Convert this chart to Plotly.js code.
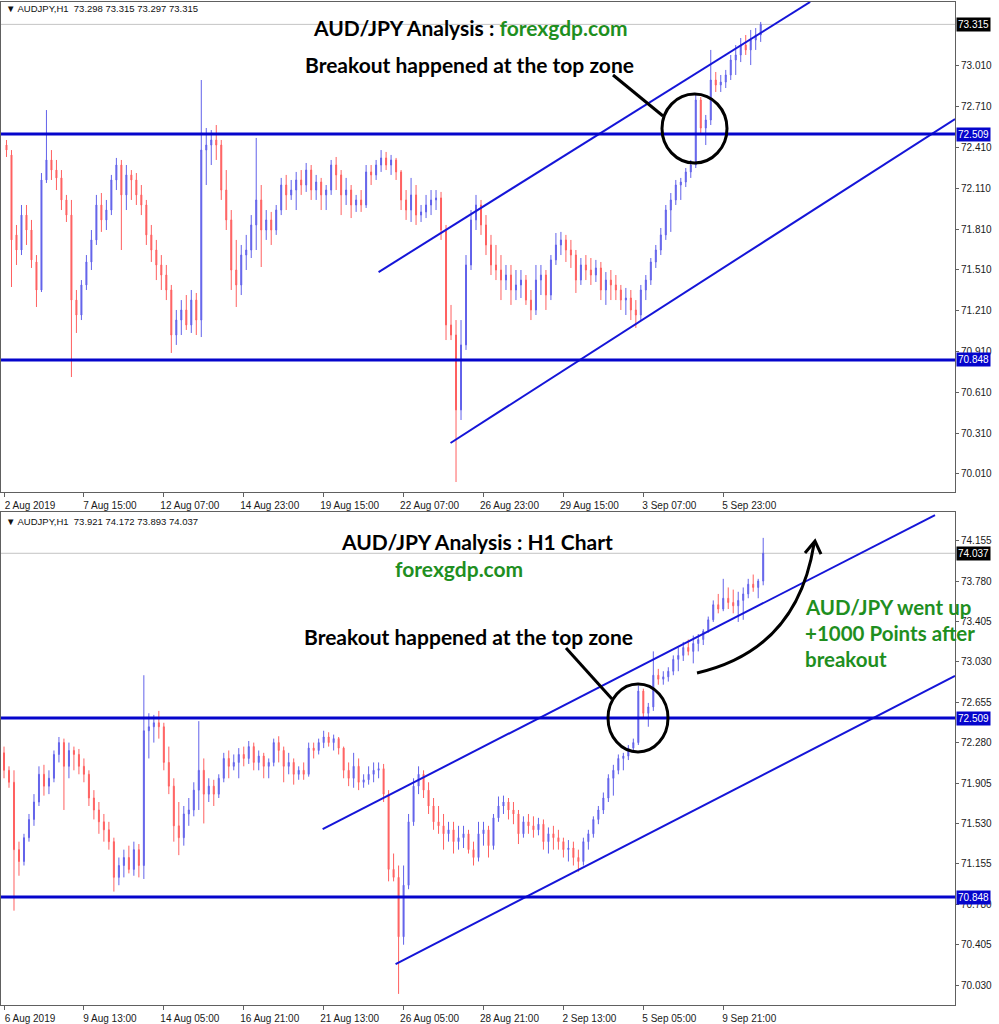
<!DOCTYPE html>
<html><head><meta charset="utf-8">
<script src="https://cdn.plot.ly/plotly-3.0.1.min.js"></script>
<style>html,body{margin:0;padding:0;background:#fff}#chart{width:999px;height:1024px}</style>
</head><body><div id="chart"></div>
<script>
// AUDJPY 4-hour candles (2 Aug 23:00 -> 10 Sep)
const openP = [
72.428,72.355,71.767,71.656,71.913,71.803,71.568,71.362,72.171,72.318,
72.244,72.186,72.024,71.913,71.288,71.178,71.399,71.568,71.730,71.987,
71.877,71.950,72.171,72.281,72.061,72.208,72.171,72.061,71.987,71.767,
71.656,71.546,71.472,71.362,71.031,71.141,71.215,71.105,71.288,71.141,
72.391,72.428,72.465,72.428,72.097,71.877,71.509,71.399,71.619,71.656,
71.840,72.024,71.803,71.877,71.803,71.950,72.134,72.061,72.097,72.171,
72.134,72.244,72.097,72.156,72.061,72.097,72.281,72.208,72.061,72.097,
71.987,72.024,71.987,72.230,72.208,72.281,72.333,72.281,72.318,72.230,
72.024,71.950,72.061,71.913,71.936,71.987,72.024,72.039,71.803,71.105,
71.031,70.480,70.958,71.546,71.877,71.987,71.840,71.693,71.546,71.509,
71.435,71.472,71.362,71.399,71.435,71.288,71.215,71.435,71.472,71.325,
71.583,71.693,71.730,71.656,71.619,71.435,71.546,71.509,71.472,71.524,
71.362,71.435,71.399,71.362,71.288,71.303,71.215,71.178,71.362,71.435,
71.568,71.656,71.767,71.950,72.024,72.134,72.156,72.230,72.281,72.759,
72.553,72.612,72.906,72.869,72.891,72.943,73.053,73.090,73.163,73.127,73.200,73.237,
73.320,73.420,73.560,73.520,73.620,73.580,73.550,73.600,73.660,73.750,73.720,73.780];
const highP = [
72.465,72.391,71.840,71.987,71.987,71.877,71.619,72.222,72.685,72.391,
72.318,72.244,72.061,72.024,71.362,71.435,71.619,71.803,72.061,72.075,
72.024,72.208,72.333,72.318,72.281,72.244,72.222,72.134,72.024,71.840,
71.730,71.619,71.546,71.399,71.215,71.288,71.325,71.362,71.340,72.906,
72.553,72.538,72.575,72.465,72.244,71.950,71.730,71.693,71.767,71.913,
72.480,72.134,71.950,71.936,71.987,72.186,72.208,72.171,72.230,72.244,
72.296,72.281,72.208,72.186,72.134,72.318,72.340,72.244,72.186,72.134,
72.061,72.097,72.281,72.281,72.318,72.391,72.377,72.355,72.333,72.244,
72.097,72.186,72.134,71.987,72.061,72.097,72.097,72.083,71.840,71.252,
71.141,71.141,71.619,71.950,72.061,72.024,71.913,71.767,71.693,71.619,
71.546,71.546,71.509,71.509,71.472,71.362,71.546,71.546,71.509,71.619,
71.781,71.789,71.767,71.730,71.656,71.597,71.619,71.597,71.583,71.568,
71.494,71.509,71.472,71.399,71.377,71.362,71.288,71.399,71.472,71.597,
71.693,71.818,71.987,72.075,72.171,72.186,72.259,72.318,72.811,72.781,
72.649,73.127,72.965,72.943,72.980,73.090,73.163,73.215,73.237,73.274,73.288,73.333,
73.450,73.600,73.660,73.800,73.720,73.700,73.680,73.720,73.800,73.840,73.800,74.180];
const lowP = [
72.340,71.384,71.546,71.619,71.693,71.524,71.237,71.347,72.149,72.171,
72.097,71.950,71.862,70.722,71.046,71.141,71.362,71.509,71.693,71.789,
71.803,71.913,72.097,71.656,71.950,72.024,71.987,71.913,71.693,71.568,
71.435,71.362,71.288,70.899,70.958,71.031,71.068,71.046,71.031,71.016,
72.134,72.281,72.318,72.024,71.803,71.362,71.237,71.325,71.509,71.597,
71.656,71.531,71.730,71.693,71.767,71.913,71.950,72.024,71.950,72.061,
72.083,72.024,72.024,71.950,71.950,72.061,72.097,71.913,71.987,71.891,
71.936,71.936,71.965,72.134,72.171,72.230,72.244,72.208,72.171,71.950,
71.877,71.862,71.840,71.862,71.891,71.913,71.950,71.730,70.994,70.994,
69.950,70.406,70.921,71.509,71.803,71.767,71.619,71.472,71.435,71.288,
71.362,71.252,71.288,71.303,71.252,71.141,71.178,71.325,71.215,71.288,
71.546,71.619,71.568,71.524,71.340,71.399,71.435,71.399,71.421,71.288,
71.252,71.288,71.288,71.215,71.178,71.141,71.083,71.141,71.288,71.399,
71.524,71.619,71.730,71.789,71.987,72.024,72.119,72.186,72.259,72.502,
72.428,72.575,72.818,72.818,72.847,72.906,72.943,73.038,73.090,73.016,73.127,73.186,
73.300,73.400,73.480,73.500,73.520,73.480,73.400,73.420,73.620,73.680,73.620,73.740];
const closeP = [
72.391,71.730,71.656,71.913,71.803,71.583,71.362,72.171,72.318,72.244,
72.186,72.024,71.913,71.288,71.178,71.399,71.568,71.730,71.987,71.877,
71.950,72.171,72.281,72.061,72.208,72.171,72.061,71.987,71.767,71.656,
71.546,71.472,71.362,71.031,71.141,71.215,71.105,71.288,71.141,72.391,
72.428,72.465,72.428,72.097,71.877,71.509,71.399,71.619,71.656,71.840,
72.024,71.803,71.877,71.803,71.950,72.134,72.061,72.097,72.171,72.134,
72.244,72.097,72.156,72.061,72.097,72.281,72.208,72.061,72.097,71.987,
72.024,71.987,72.230,72.208,72.281,72.333,72.281,72.318,72.230,72.024,
71.950,72.061,71.913,71.936,71.987,72.024,72.039,71.803,71.105,71.031,
70.480,70.958,71.546,71.877,71.987,71.840,71.693,71.546,71.509,71.435,
71.472,71.362,71.399,71.435,71.288,71.215,71.435,71.472,71.325,71.583,
71.693,71.730,71.656,71.619,71.435,71.546,71.509,71.472,71.524,71.362,
71.435,71.399,71.362,71.288,71.303,71.215,71.178,71.362,71.435,71.568,
71.656,71.767,71.950,72.024,72.134,72.156,72.230,72.281,72.759,72.553,
72.612,72.906,72.869,72.891,72.943,73.053,73.090,73.163,73.127,73.200,73.237,73.315,
73.420,73.560,73.520,73.620,73.580,73.550,73.600,73.660,73.750,73.720,73.780,74.037];
const topCandleCount = 152;   // first chart ends at 6 Sep

// axis labels (H1 bar numbers counted from 2 Aug 23:00)
const topTickBars = [0,64,128,192,256,320,384,448,512,576];
const topTickLabels = ['2 Aug 2019','7 Aug 15:00','12 Aug 07:00','14 Aug 23:00','19 Aug 15:00','22 Aug 07:00','26 Aug 23:00','29 Aug 15:00','3 Sep 07:00','5 Sep 23:00'];
const bottomTickBars = [46,110,174,238,302,366,430,494,558,622];
const bottomTickLabels = ['6 Aug 2019','9 Aug 13:00','14 Aug 05:00','16 Aug 21:00','21 Aug 13:00','26 Aug 05:00','28 Aug 21:00','2 Sep 13:00','5 Sep 05:00','9 Sep 21:00'];
const topPriceTicks = [70.010,70.310,70.610,70.910,71.210,71.510,71.810,72.110,72.410,72.710,73.010];
const bottomPriceTicks = [70.030,70.405,70.780,71.155,71.530,71.905,72.280,72.655,73.030,73.405,73.780,74.155];

// horizontal levels and channel lines
const levels = [72.509, 70.848];
const topLastPrice = 73.315, bottomLastPrice = 74.037;
const topHeader = '\u25BC AUDJPY,H1  73.298 73.315 73.297 73.315';
const bottomHeader = '\u25BC AUDJPY,H1  73.921 74.172 73.893 74.037';
const topUpperX = [300, 645.6], topUpperY = [71.494, 73.480];
const topLowerX = [357.6, 761.6], topLowerY = [70.237, 72.619];
const botUpperX = [301.2, 791.6], botUpperY = [71.479, 74.392];
const botLowerX = [359.6, 807.6], botLowerY = [70.227, 72.899];

const barX = closeP.map((_, i) => i * 4 + 2);

const W = 999, H = 1024;
const PX = x => x / W, PY = y => 1 - y / H;
const UP = '#6262ea', DN = '#ff6060', LVL = '#0505cc', TL = '#1515d8', GREEN = '#1f8f1f';

function candles(n, xa, ya) {
  return {type:'candlestick', x: barX.slice(0,n), open: openP.slice(0,n), high: highP.slice(0,n),
    low: lowP.slice(0,n), close: closeP.slice(0,n), xaxis: xa, yaxis: ya, hoverinfo:'skip',
    increasing:{line:{color:UP,width:1}, fillcolor:UP},
    decreasing:{line:{color:DN,width:1}, fillcolor:DN}, showlegend:false};
}
function tline(x, y, xa, ya) {
  return {type:'scatter', mode:'lines', x:x, y:y, xaxis:xa, yaxis:ya, line:{color:TL,width:2}, hoverinfo:'skip', showlegend:false};
}
const data = [
  candles(topCandleCount, 'x', 'y'),
  candles(closeP.length, 'x2', 'y2'),
  tline(topUpperX, topUpperY, 'x', 'y'), tline(topLowerX, topLowerY, 'x', 'y'),
  tline(botUpperX, botUpperY, 'x2', 'y2'), tline(botLowerX, botLowerY, 'x2', 'y2')
];

const tickFont = {family:'Liberation Sans, Arial, sans-serif', size:10, color:'#1a1a1a'};
const xCommon = {showgrid:false, zeroline:false, showline:true, mirror:true, linecolor:'#606060', linewidth:1,
  ticks:'outside', ticklen:4, tickcolor:'#606060', tickfont:tickFont, ticklabelshift:26,
  rangeslider:{visible:false}, fixedrange:true};
const yCommon = {showgrid:false, zeroline:false, showline:true, mirror:true, linecolor:'#606060', linewidth:1,
  ticks:'outside', ticklen:3, tickcolor:'#606060', tickfont:tickFont, side:'right', tickformat:'.3f', fixedrange:true};

const xdom = [PX(1), PX(955)];
const layout = {
  width:W, height:H, margin:{l:0,r:0,t:0,b:0}, paper_bgcolor:'#fff', plot_bgcolor:'#fff',
  showlegend:false, boxgap:0.72,
  xaxis: Object.assign({}, xCommon, {domain:xdom, anchor:'y', range:[-2.4, 761.6], tickvals:topTickBars, ticktext:topTickLabels}),
  yaxis: Object.assign({}, yCommon, {domain:[PY(492), PY(2)], anchor:'x', range:[69.8766, 73.4796], tickvals:topPriceTicks}),
  xaxis2: Object.assign({}, xCommon, {domain:xdom, anchor:'y2', range:[43.6, 807.6], tickvals:bottomTickBars, ticktext:bottomTickLabels}),
  yaxis2: Object.assign({}, yCommon, {domain:[PY(1005), PY(512)], anchor:'x2', range:[69.847, 74.420], tickvals:bottomPriceTicks}),
  shapes: [], annotations: []
};

// grey current price lines
layout.shapes.push({type:'line', xref:'x domain', yref:'y', x0:0, x1:1, y0:topLastPrice, y1:topLastPrice, line:{color:'#c4c4c4', width:1}, layer:'below'});
layout.shapes.push({type:'line', xref:'x2 domain', yref:'y2', x0:0, x1:1, y0:bottomLastPrice, y1:bottomLastPrice, line:{color:'#c4c4c4', width:1}, layer:'below'});
// support / resistance levels
levels.forEach(v => {
  layout.shapes.push({type:'line', xref:'x domain', yref:'y', x0:0, x1:1, y0:v, y1:v, line:{color:LVL, width:3}});
  layout.shapes.push({type:'line', xref:'x2 domain', yref:'y2', x0:0, x1:1, y0:v, y1:v, line:{color:LVL, width:3}});
});
// circles and pointers
const blk = {color:'#000', width:3};
layout.shapes.push({type:'circle', xref:'paper', yref:'paper', x0:PX(662), x1:PX(727), y0:PY(163), y1:PY(94), line:blk});
layout.shapes.push({type:'circle', xref:'paper', yref:'paper', x0:PX(608), x1:PX(668), y0:PY(752), y1:PY(684), line:blk});
layout.shapes.push({type:'line', xref:'paper', yref:'paper', x0:PX(613), y0:PY(75), x1:PX(663), y1:PY(116), line:blk});
layout.shapes.push({type:'line', xref:'paper', yref:'paper', x0:PX(566), y0:PY(648), x1:PX(612), y1:PY(699), line:blk});
// curved arrow
const p = (x,y) => PX(x).toFixed(5) + ',' + PY(y).toFixed(5);
layout.shapes.push({type:'path', xref:'paper', yref:'paper', path:'M'+p(697,673)+' Q'+p(797,650)+' '+p(814,544), line:blk});
layout.shapes.push({type:'path', xref:'paper', yref:'paper', path:'M'+p(805,553)+' L'+p(815,541)+' L'+p(821,554), line:blk});

// price boxes on the scale
function priceBox(v, yref, bg) {
  return {xref:'paper', yref:yref, x:PX(956), y:v, xanchor:'left', yanchor:'middle', showarrow:false,
    text:v.toFixed(3), font:{family:'Liberation Sans, Arial, sans-serif', size:10, color:'#fff'}, bgcolor:bg, borderpad:1};
}
layout.annotations.push(priceBox(topLastPrice, 'y', '#000'));
layout.annotations.push(priceBox(bottomLastPrice, 'y2', '#000'));
levels.forEach(v => { layout.annotations.push(priceBox(v, 'y', LVL)); layout.annotations.push(priceBox(v, 'y2', LVL)); });

// headers
const hdrFont = {family:'Liberation Sans, Arial, sans-serif', size:9.5, color:'#111'};
layout.annotations.push({xref:'paper', yref:'paper', x:PX(4), y:PY(8), xanchor:'left', yanchor:'middle', showarrow:false, text:topHeader, font:hdrFont});
layout.annotations.push({xref:'paper', yref:'paper', x:PX(4), y:PY(521), xanchor:'left', yanchor:'middle', showarrow:false, text:bottomHeader, font:hdrFont});

// captions
const cap = {family:'Lato, Open Sans, sans-serif', size:21, color:'#000'};
const capG = Object.assign({}, cap, {size:20.5, color:GREEN});
function txt(x, y, t, font, anchor) {
  return {xref:'paper', yref:'paper', x:PX(x), y:PY(y), xanchor:anchor||'center', yanchor:'middle', showarrow:false,
    text:t, font:font};
}
layout.annotations.push(txt(470, 27, '<b>AUD/JPY Analysis : <span style="color:'+GREEN+'">forexgdp.com</span></b>', cap));
layout.annotations.push(txt(469, 64, '<b>Breakout happened at the top zone</b>', cap));
layout.annotations.push(txt(477, 541, '<b>AUD/JPY Analysis : H1 Chart</b>', cap));
layout.annotations.push(txt(459, 568, '<b>forexgdp.com</b>', Object.assign({}, cap, {color:GREEN})));
layout.annotations.push(txt(468, 636, '<b>Breakout happened at the top zone</b>', cap));
layout.annotations.push(txt(803, 607, '<b>AUD/JPY went up</b>', capG, 'left'));
layout.annotations.push(txt(803, 633, '<b>+1000 Points after</b>', capG, 'left'));
layout.annotations.push(txt(803, 659, '<b>breakout</b>', capG, 'left'));

Plotly.newPlot('chart', data, layout, {staticPlot:true, displayModeBar:false});
</script></body></html>
